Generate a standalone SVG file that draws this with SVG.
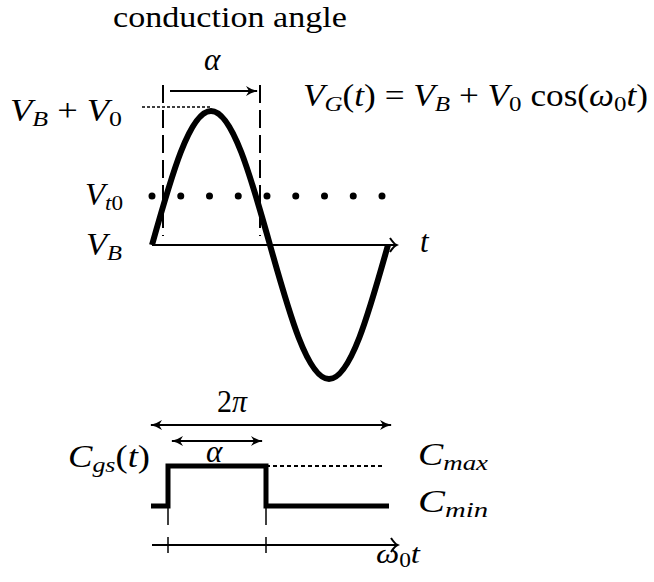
<svg xmlns="http://www.w3.org/2000/svg" width="654" height="582" viewBox="0 0 654 582">
<style>
.t{font-family:"Liberation Serif","DejaVu Serif",serif;font-size:31px;fill:#000}
.i{font-style:italic}
.s{font-size:22px}
.ln{stroke:#000;fill:none}
</style>
<defs>
<marker id="ah" markerUnits="userSpaceOnUse" viewBox="-12 -6 14 12" markerWidth="14" markerHeight="12" refX="0" refY="0" orient="auto-start-reverse">
<path d="M-11,-5 Q-5,-1 1,0 Q-5,1 -11,5 L-8,0 z" fill="#000"/>
</marker>
<marker id="ch" markerUnits="userSpaceOnUse" viewBox="-12 -9 15 18" markerWidth="15" markerHeight="18" refX="0" refY="0" orient="auto">
<path d="M-6,-7 Q-2,-1 0.5,0 Q-2,1 -6,7" fill="none" stroke="#000" stroke-width="2"/>
</marker>
</defs>

<g id="title"><text class="t" x="113" y="27" font-size="30" style="font-size:30px" textLength="234" lengthAdjust="spacingAndGlyphs">conduction angle</text></g>

<g id="top-plot">
<path id="vt0-dots" d="M152,196 h0 M180.75,196 h0 M209.5,196 h0 M238.25,196 h0 M267,196 h0 M295.75,196 h0 M324.5,196 h0 M353.25,196 h0 M382,196 h0" stroke="#000" stroke-width="7" stroke-linecap="round"/>
<line class="ln" x1="142" y1="107" x2="210" y2="107" stroke-width="1.5" stroke-dasharray="3 2"/>
<line class="ln" x1="163" y1="85" x2="163" y2="236" stroke-width="2" stroke-dasharray="18 7"/>
<line class="ln" x1="260" y1="85" x2="260" y2="236" stroke-width="2" stroke-dasharray="18 7"/>
<line class="ln" x1="170" y1="91" x2="257" y2="91" stroke-width="2" marker-end="url(#ah)"/>
<line class="ln" x1="152" y1="245" x2="396" y2="245" stroke-width="2" marker-end="url(#ch)"/>
<path id="wave" class="ln" stroke-width="6" d="M152,245 C171.24,176.4 189.65,111 211,111 C232.35,111 250.76,176.4 270,245 C289.24,313.6 307.65,379 329,379 C350.35,379 368.76,313.6 388,245"/>
</g>

<g id="labels-top">
<text class="t i" x="204" y="70">α</text>
<text class="t" x="10" y="121" textLength="112" lengthAdjust="spacingAndGlyphs"><tspan class="i">V</tspan><tspan class="i s" dy="5">B</tspan><tspan dy="-5"> + </tspan><tspan class="i">V</tspan><tspan class="s" dy="5">0</tspan></text>
<text class="t" x="85" y="205" textLength="38" lengthAdjust="spacingAndGlyphs"><tspan class="i">V</tspan><tspan class="i s" dy="5">t</tspan><tspan class="s">0</tspan></text>
<text class="t" x="86" y="255" textLength="36" lengthAdjust="spacingAndGlyphs"><tspan class="i">V</tspan><tspan class="i s" dy="5">B</tspan></text>
<text class="t i" x="420" y="252">t</text>
<text class="t" x="303" y="106" textLength="345" lengthAdjust="spacingAndGlyphs"><tspan class="i">V</tspan><tspan class="i s" dy="5">G</tspan><tspan dy="-5">(</tspan><tspan class="i">t</tspan><tspan>) = </tspan><tspan class="i">V</tspan><tspan class="i s" dy="5">B</tspan><tspan dy="-5"> + </tspan><tspan class="i">V</tspan><tspan class="s" dy="5">0</tspan><tspan dy="-5"> cos(</tspan><tspan class="i">ω</tspan><tspan class="s" dy="5">0</tspan><tspan class="i" dy="-5">t</tspan><tspan>)</tspan></text>
</g>

<g id="bottom-plot">
<line class="ln" x1="151" y1="425" x2="391" y2="425" stroke-width="2" marker-start="url(#ah)" marker-end="url(#ah)"/>
<line class="ln" x1="172" y1="441" x2="262" y2="441" stroke-width="2" marker-start="url(#ah)" marker-end="url(#ah)"/>
<line class="ln" x1="266" y1="466" x2="385" y2="466" stroke-width="2" stroke-dasharray="4 3"/>
<path id="pulse" class="ln" stroke-width="5" d="M151,506 H168 V466 H266 V506 H389"/>
<line class="ln" x1="168" y1="506" x2="168" y2="525" stroke-width="1.5"/>
<line class="ln" x1="266" y1="506" x2="266" y2="525" stroke-width="1.5"/>
<line class="ln" x1="152" y1="545" x2="397" y2="545" stroke-width="2" marker-end="url(#ch)"/>
<line class="ln" x1="168" y1="537" x2="168" y2="553" stroke-width="1.5"/>
<line class="ln" x1="266" y1="537" x2="266" y2="553" stroke-width="1.5"/>
</g>

<g id="labels-bottom">
<text class="t" x="217" y="412" textLength="30" lengthAdjust="spacingAndGlyphs">2<tspan class="i">π</tspan></text>
<text class="t i" x="206" y="462">α</text>
<text class="t" x="68" y="467" textLength="82" lengthAdjust="spacingAndGlyphs"><tspan class="i">C</tspan><tspan class="i s" dy="5">gs</tspan><tspan dy="-5">(</tspan><tspan class="i">t</tspan><tspan>)</tspan></text>
<text class="t" x="418" y="465" textLength="70" lengthAdjust="spacingAndGlyphs"><tspan class="i">C</tspan><tspan class="i s" dy="5">max</tspan></text>
<text class="t" x="418" y="512" textLength="70" lengthAdjust="spacingAndGlyphs"><tspan class="i">C</tspan><tspan class="i s" dy="5">min</tspan></text>
<text class="t" x="376" y="563" style="font-size:28px" textLength="44" lengthAdjust="spacingAndGlyphs"><tspan class="i">ω</tspan><tspan style="font-size:20px" dy="4">0</tspan><tspan class="i" dy="-4">t</tspan></text>
</g>
</svg>
